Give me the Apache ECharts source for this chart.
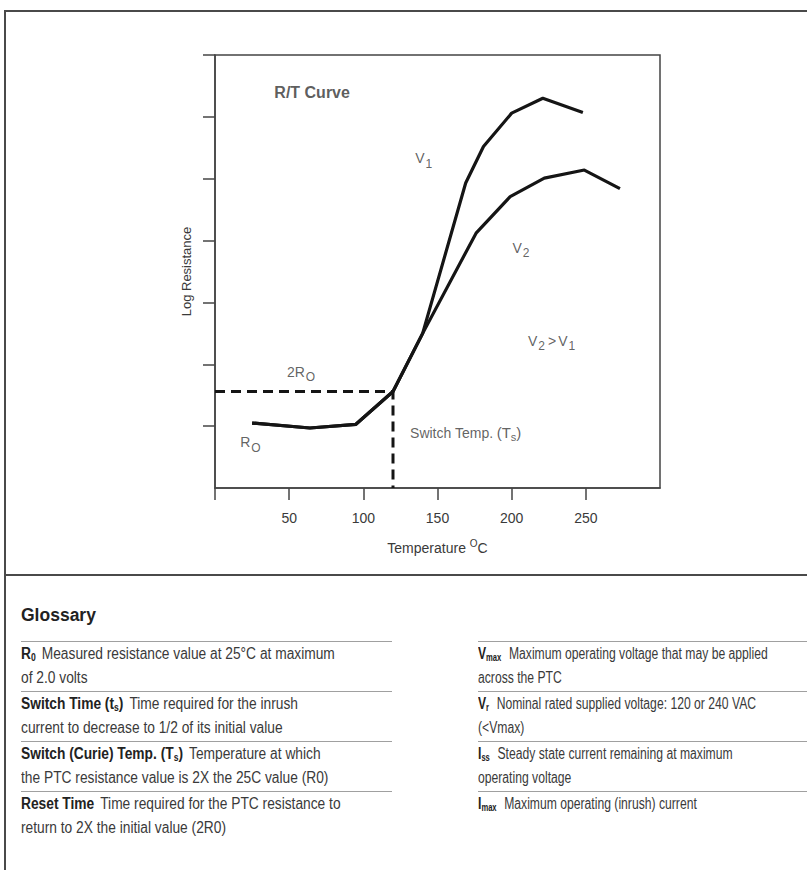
<!DOCTYPE html>
<html>
<head>
<meta charset="utf-8">
<script src="https://cdn.jsdelivr.net/npm/echarts@6/dist/echarts.min.js"></script>
<style>
html,body{margin:0;padding:0;background:#fff;}
#wrap{position:relative;width:807px;height:870px;overflow:hidden;background:#fff;}
#chart{position:absolute;left:0;top:0;width:807px;height:575px;}
.frame{position:absolute;background:#4a4a4a;}
#gloss{position:absolute;left:0;top:575px;width:807px;height:295px;color:#3a3a3a;
  font-family:'Liberation Sans',Arial,sans-serif;}
#gloss h2{position:absolute;left:21px;top:28px;margin:0;font-family:'Liberation Sans',Arial,sans-serif;
  font-weight:bold;font-size:17.5px;line-height:24px;color:#222;}
.col{position:absolute;top:66px;}
.item{border-top:1px solid #a0a0a0;font-size:16px;line-height:24px;height:49px;white-space:nowrap;}
.ln{height:24px;}
.sx{display:inline-block;transform:scaleX(0.86);transform-origin:0 50%;white-space:nowrap;}
#colR .sx{transform:scaleX(0.76);}
.item b{color:#222;margin-right:7px;}
#colR .item b{margin-right:10px;}
.item sub{font-size:10px;vertical-align:-2px;line-height:0;}
</style>
</head>
<body>
<div id="wrap">
  <div id="chart"></div>
  <div class="frame" style="left:4px;top:10px;width:803px;height:1.5px;"></div>
  <div class="frame" style="left:4px;top:10px;width:1.5px;height:860px;"></div>
  <div class="frame" style="left:4px;top:574px;width:803px;height:1.5px;"></div>
  <div id="gloss">
    <h2>Glossary</h2>
    <div class="col" id="colL" style="left:21px;width:371px;"></div>
    <div class="col" id="colR" style="left:478px;width:329px;"></div>
  </div>
</div>
<script>
// ---- data ----
const tempsV1 = [25, 64, 95, 120, 140, 169, 181, 200, 221, 248];
const logRV1  = [1.05, 0.97, 1.03, 1.56, 2.5, 4.93, 5.52, 6.06, 6.30, 6.07];
const tempsV2 = [25, 64, 95, 120, 140, 176, 199, 222, 249, 273];
const logRV2  = [1.05, 0.97, 1.03, 1.56, 2.5, 4.12, 4.71, 5.01, 5.14, 4.84];
const switchTemp = 120;
const twoR0 = 1.56;
const xTickValues = [0, 50, 100, 150, 200, 250];
const xLabelValues = [50, 100, 150, 200, 250];
const yTickValues = [1, 2, 3, 4, 5, 6, 7];

// annotations: text + anchor in data coordinates
const annoText = ['{t|R/T Curve}', '{n|V}{s|1}', '{n|V}{s|2}', '{n|V}{s|2}{g|>}{n|V}{s|1}', '{n|2R}{s|O}', '{n|R}{s|O}', '{n|Switch Temp.} {p|(T}{ps|s}{p|)}'];
const annoX = [40, 135, 200.5, 211, 48.5, 17, 131.5];
const annoY = [6.39, 5.33, 3.88, 2.38, 1.88, 0.74, 0.89];

const glossLeft = [
  ['R<sub>0</sub>', 'Measured resistance value at 25°C at maximum', 'of 2.0 volts'],
  ['Switch Time (t<sub>s</sub>)', 'Time required for the inrush', 'current to decrease to 1/2 of its initial value'],
  ['Switch (Curie) Temp. (T<sub>s</sub>)', 'Temperature at which', 'the PTC resistance value is 2X the 25C value (R0)'],
  ['Reset Time', 'Time required for the PTC resistance to', 'return to 2X the initial value (2R0)']
];
const glossRight = [
  ['V<sub>max</sub>', 'Maximum operating voltage that may be applied', 'across the PTC'],
  ['V<sub>r</sub>', 'Nominal rated supplied voltage: 120 or 240 VAC', '(&lt;Vmax)'],
  ['I<sub>ss</sub>', 'Steady state current remaining at maximum', 'operating voltage'],
  ['I<sub>max</sub>', 'Maximum operating (inrush) current', '']
];

function fillCol(id, rows) {
  document.getElementById(id).innerHTML = rows.map(r =>
    '<div class="item"><div class="ln"><span class="sx"><b>' + r[0] + '</b>' + r[1] +
    '</span></div><div class="ln"><span class="sx">' + r[2] + '</span></div></div>').join('');
}
fillCol('colL', glossLeft);
fillCol('colR', glossRight);

const FONT = "'Liberation Sans',Arial,sans-serif";
const INK = '#151515';
const AX = '#444';
const TXT = '#3a3a3a';

const richStyles = {
  t: {fontFamily: FONT, fontWeight: 'bold', fontSize: 16, color: '#333'},
  n: {fontFamily: FONT, fontSize: 14, color: TXT},
  g: {fontFamily: FONT, fontSize: 14, color: TXT, padding: [0, 2, 0, 3]},
  s: {fontFamily: FONT, fontSize: 12, color: TXT, padding: [11, 0, 0, 1]},
  p: {fontFamily: FONT, fontSize: 15, color: TXT},
  ps: {fontFamily: FONT, fontSize: 11, color: TXT, padding: [9, 0, 0, 0]}
};

const chart = echarts.init(document.getElementById('chart'), null, {renderer: 'svg'});
chart.setOption({
  animation: false,
  backgroundColor: 'transparent',
  grid: {left: 215, top: 55, right: 147, bottom: 87, show: true, borderColor: AX, borderWidth: 1.5,
         containLabel: false, outerBoundsMode: 'none'},
  xAxis: {
    type: 'value', min: 0, max: 300, interval: 50,
    axisLine: {show: true, lineStyle: {color: AX, width: 1.5}},
    axisTick: {show: true, length: 12, customValues: xTickValues, lineStyle: {color: AX, width: 1.5}},
    axisLabel: {customValues: xLabelValues, margin: 23, fontSize: 14, color: TXT, fontFamily: FONT},
    splitLine: {show: false},
    name: '{n|Temperature }{sup|O}{n|C}', nameLocation: 'middle', nameGap: 50,
    nameTextStyle: {rich: {
      n: {fontFamily: FONT, fontSize: 14, color: TXT},
      sup: {fontFamily: FONT, fontSize: 10, color: TXT, padding: [0, 0, 9, 0]}
    }}
  },
  yAxis: {
    type: 'value', min: 0, max: 7, interval: 1,
    axisLine: {show: true, lineStyle: {color: AX, width: 1.5}},
    axisTick: {show: true, length: 12, customValues: yTickValues, lineStyle: {color: AX, width: 1.5}},
    axisLabel: {show: false},
    splitLine: {show: false},
    name: 'Log Resistance', nameLocation: 'middle', nameGap: 22, nameRotate: 90,
    nameTextStyle: {fontFamily: FONT, fontSize: 13, color: TXT}
  },
  series: [
    {type: 'line', name: 'V1', data: tempsV1.map((t, i) => [t, logRV1[i]]), symbol: 'none',
     lineStyle: {color: INK, width: 3.2, join: 'round'}, z: 3},
    {type: 'line', name: 'V2', data: tempsV2.map((t, i) => [t, logRV2[i]]), symbol: 'none',
     lineStyle: {color: INK, width: 3.2, join: 'round'}, z: 3},
    {type: 'line', name: '2R0', data: [[0, twoR0], [switchTemp, twoR0], [switchTemp, 0]], symbol: 'none',
     lineStyle: {color: INK, width: 3, type: [10, 6]}, z: 2},
    {type: 'scatter', name: 'notes', symbolSize: 0, silent: true,
     data: annoText.map((txt, i) => ({value: [annoX[i], annoY[i]],
       label: {show: true, position: 'right', distance: 0, formatter: txt, rich: richStyles}})),
     z: 4}
  ]
});
</script>
</body>
</html>
